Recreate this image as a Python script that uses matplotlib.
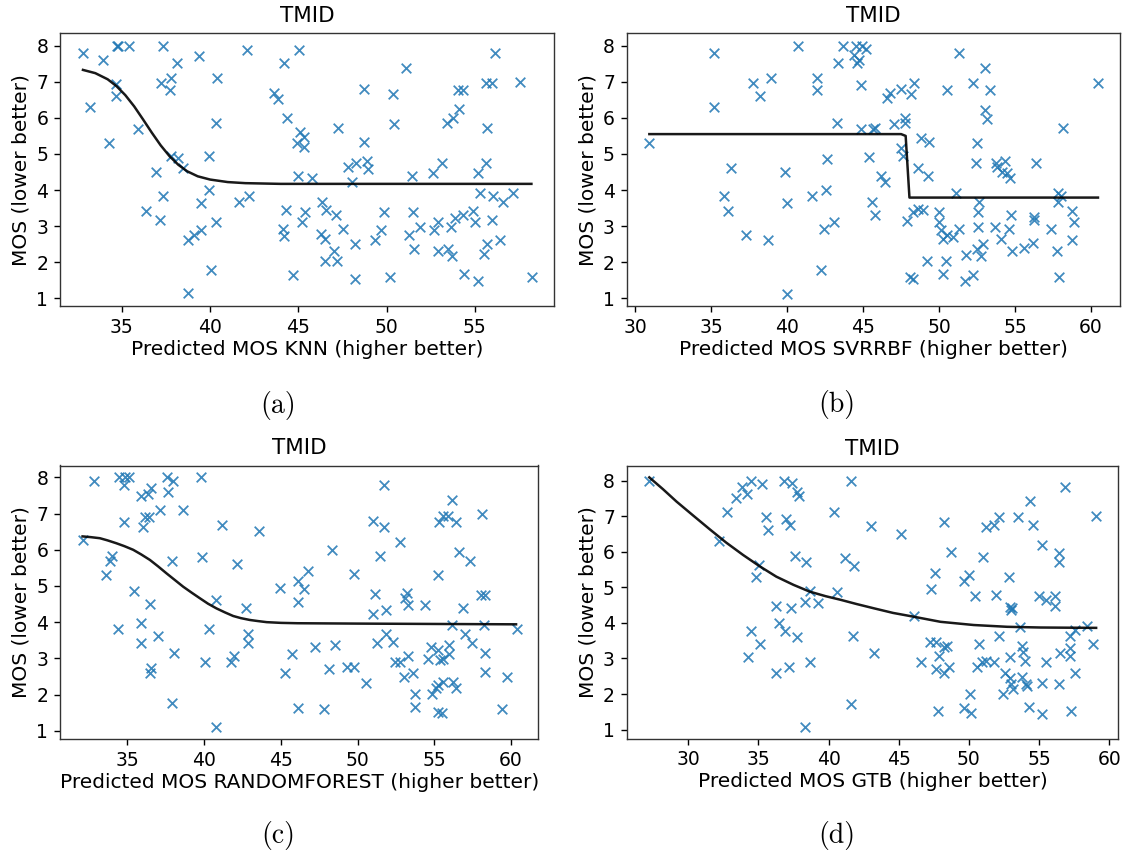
import matplotlib
matplotlib.use("Agg")
import matplotlib.pyplot as plt

# ---------------- data ----------------
title = "TMID"
ylabel = "MOS (lower better)"
xlabels = ["Predicted MOS KNN (higher better)",
           "Predicted MOS SVRRBF (higher better)",
           "Predicted MOS RANDOMFOREST (higher better)",
           "Predicted MOS GTB (higher better)"]
captions = ["(a)", "(b)", "(c)", "(d)"]

pts_a = [(32.79,7.79),(33.21,6.29),(33.91,7.60),(34.26,5.31),(34.66,6.93),(34.66,6.61),(34.72,8.0),(34.81,8.0),
         (35.42,8.0),(35.9,5.68),(36.36,3.42),(36.94,4.50),(37.19,3.16),(37.23,6.96),(37.32,8.0),(37.32,3.82),
         (37.72,6.77),(37.79,7.10),(37.79,4.93),(38.11,7.53),(38.19,4.89),(38.45,4.62),(38.74,2.62),(38.74,1.14),
         (39.11,2.76),(39.36,7.72),(39.49,3.63),(39.49,2.89),(39.96,4.94),(39.96,4.00),(40.08,1.79),(40.32,5.85),
         (40.32,3.10),(40.40,7.10),(41.64,3.66),(42.09,7.88),(42.23,3.82),(43.62,6.70),(43.87,6.51),(44.19,7.51),
         (44.11,2.91),(44.19,2.73),(44.30,3.45),(44.34,6.01),(44.72,1.64),(45.05,7.88),
         (45.10,5.62),(44.91,5.31),(45.32,5.46),(45.32,5.18),(45.0,4.40),(45.76,4.33),(45.36,3.40),(45.23,3.12),
         (46.34,3.68),(46.57,3.45),(47.12,3.31),(46.27,2.77),(46.49,2.64),(47.0,2.32),(46.49,2.03),(47.17,2.03),
         (47.27,5.71),(47.55,2.91),(47.83,4.65),(48.27,4.76),(48.06,4.22),(48.23,2.50),(48.23,1.53),(48.74,6.80),
         (48.74,5.34),(48.87,4.81),(48.97,4.57),(49.34,2.62),(49.68,2.89),(49.87,3.38),(50.21,1.60),(50.38,6.65),
         (50.44,5.82),(51.10,7.39),(51.27,2.76),(51.44,4.40),(51.51,3.38),(51.57,2.36),(51.89,2.97),(52.61,4.48),
         (52.70,2.89),(52.93,3.10),(52.93,2.32),(53.12,4.76),(53.44,5.87),(53.50,2.36),(53.68,2.17),(53.65,2.97),
         (53.74,5.99),(53.89,3.22),(54.12,6.24),(54.06,6.77),(54.34,6.77),(54.33,3.31),(54.40,1.67),(54.91,3.42),
         (55.0,3.12),(55.16,4.46),(55.16,1.49),(55.29,3.93),(55.63,6.96),(55.95,6.96),(55.67,5.71),(55.63,4.76),
         (55.67,2.50),(55.53,2.22),(55.95,3.17),(56.04,3.82),(56.14,7.79),(56.57,3.68),(56.42,2.62),(57.18,3.93),
         (57.55,7.00),(58.21,1.60)]
curve_a_x = [32.8,33.5,34.2,34.7,35.2,35.7,36.2,36.7,37.2,37.7,38.2,38.7,39.3,40.0,41.0,42.0,44.0,48.0,58.2]
curve_a_y = [7.33,7.24,7.07,6.88,6.63,6.32,5.96,5.59,5.24,4.94,4.70,4.52,4.38,4.29,4.22,4.19,4.17,4.17,4.17]

pts_b = [(30.94,5.31),(35.19,7.79),(35.19,6.29),(35.87,3.82),(36.09,3.42),(36.33,4.62),(37.27,2.76),(37.77,6.96),
         (38.21,6.61),(38.76,2.62),(38.91,7.10),(39.88,4.50),(39.97,3.63),(39.97,1.12),(40.73,8.0),(41.61,3.82),
         (41.94,6.77),(42.0,7.10),(42.2,1.79),(42.44,2.91),(42.53,4.0),(42.62,4.87),(43.08,3.10),(43.29,5.85),
         (43.38,7.53),(43.69,8.0),
         (44.52,8.0),(44.96,8.0),(45.22,7.90),(44.42,7.74),(44.70,7.60),(44.63,7.51),(44.89,6.91),(44.89,5.68),
         (45.65,5.68),(45.76,5.73),(45.39,4.91),(46.21,4.39),(46.47,4.22),(45.56,3.68),(45.76,3.30),(46.58,6.54),
         (46.75,6.68),(47.01,5.82),(47.51,6.80),(48.14,6.66),(48.38,6.96),(47.77,6.01),(47.77,5.87),(47.51,5.17),
         (47.60,4.94),(48.64,4.60),(48.81,5.43),(49.33,5.34),(49.24,4.39),(47.92,3.15),(48.31,3.39),(48.64,3.47),
         (48.96,3.45),(48.10,1.60),(48.31,1.53),(49.18,2.03),(50.0,3.39),(50.0,3.10),(50.11,2.89),(50.26,2.64),
         (50.54,2.76),(50.91,2.71),(51.28,2.91),(50.43,2.03),(50.26,1.67),(50.54,6.77),(51.13,3.93),(51.28,7.79),
         (51.80,2.20),(51.71,1.48),(52.25,6.96),(52.25,1.63),(52.42,4.76),(52.49,5.31),(52.53,3.40),(52.64,3.68),
         (52.58,2.97),(52.49,2.36),(52.75,2.17),(52.86,2.50),(53.01,7.39),(53.01,6.22),(53.12,5.98),(53.35,6.77),
         (53.66,2.97),(53.72,4.74),(53.83,4.65),(54.05,2.64),(54.16,4.51),(54.33,4.80),(54.44,4.46),(54.65,4.34),
         (54.57,2.91),(54.74,3.30),(54.81,2.32),(55.61,2.39),(56.17,2.53),(56.21,3.26),(56.26,3.17),(56.36,4.76),
         (57.34,2.91),(57.73,2.32),(57.84,3.93),(58.05,3.82),(57.84,3.68),(57.88,1.60),(58.16,5.71),(58.77,3.42),
         (58.85,3.12),(58.77,2.62),(60.45,6.98)]
curve_b_x = [30.94,47.5,47.8,48.05,60.45]
curve_b_y = [5.55,5.55,5.50,3.79,3.79]

pts_c = [(32.07,6.28),(32.83,7.89),(33.59,5.29),(33.85,5.68),(33.96,5.84),(34.35,3.80),(34.43,8.0),(34.76,7.79),
         (34.76,6.76),(34.83,8.0),(35.09,8.0),(35.41,4.86),(35.85,3.42),(35.91,3.99),(35.91,7.50),(36.02,6.63),
         (36.13,6.90),(36.35,7.54),(36.5,7.70),(36.41,6.92),(36.46,4.50),(36.52,2.74),(36.46,2.59),(36.96,3.62),
         (37.11,7.09),(37.59,8.0),(37.65,7.59),(37.91,5.70),(37.98,7.89),(37.91,1.76),(38.04,3.16),(38.59,7.09),
         (39.78,8.0),(39.87,5.81),(40.04,2.89),(40.30,3.80),(40.76,1.11),(40.80,4.61),(41.13,6.69),(41.74,2.89),
         (41.96,3.07),(42.17,5.60),(42.72,4.40),(42.87,3.67),(42.87,3.43),(43.59,6.51),(44.93,4.94),(45.26,2.60),
         (45.74,3.11),(46.09,5.15),(46.09,4.57),(46.09,1.62),
         (46.74,5.40),(46.52,4.91),(47.20,3.30),(47.80,1.59),(48.15,2.71),(48.30,6.0),(48.52,3.37),(49.28,2.75),
         (49.78,2.75),(49.78,5.33),(50.54,2.31),(50.98,6.80),(50.98,4.22),(51.15,4.77),(51.24,3.42),(51.46,5.84),
         (51.70,7.78),(51.70,6.64),(51.85,4.33),(51.85,3.67),(52.28,3.44),(52.46,2.89),(52.78,2.89),(52.78,6.21),
         (53.04,2.49),(53.11,4.66),(53.20,4.80),(53.30,4.48),(53.30,3.07),(53.63,2.60),(53.76,2.01),(53.74,1.65),
         (54.41,4.48),(54.61,2.97),(54.78,3.31),(54.83,2.01),(55.11,2.17),(55.22,5.29),(55.22,3.23),(55.26,2.26),
         (55.39,2.94),(55.28,6.76),(55.54,6.94),(55.22,1.53),(55.48,1.48),(55.59,2.34),(55.59,2.97),(55.87,6.94),
         (55.98,3.37),(55.98,3.12),(56.20,2.34),(56.13,7.38),(56.15,3.92),(56.41,6.76),(56.41,2.19),(56.63,5.95),
         (56.89,4.38),(57.0,3.67),(57.35,5.70),(57.43,3.42),(58.11,6.99),(58.04,4.75),(58.33,4.75),(58.22,3.92),
         (58.30,3.16),(58.30,2.61),(59.39,1.59),(59.74,2.49),(60.37,3.81)]
curve_c_x = [32.07,32.6,33.2,33.7,34.28,34.8,35.37,35.9,36.46,37.0,37.54,38.1,38.63,39.2,39.72,40.25,40.8,
             41.35,41.89,42.4,42.98,43.5,44.07,45.0,46.09,48.0,50.0,55.0,60.33]
curve_c_y = [6.37,6.35,6.32,6.26,6.18,6.10,6.0,5.87,5.72,5.54,5.35,5.16,4.98,4.81,4.66,4.51,4.38,
             4.27,4.17,4.11,4.06,4.03,4.0,3.98,3.97,3.965,3.96,3.95,3.94]

pts_d = [(27.23,8.0),(32.20,6.30),(32.77,7.12),(33.39,7.52),(33.86,7.83),(34.19,7.62),(34.45,8.0),(34.27,3.03),
         (34.45,3.78),(34.81,5.30),(35.02,5.63),(35.09,3.40),(35.26,7.91),(35.57,6.97),(35.69,6.61),(36.23,4.48),
         (36.23,2.60),(36.47,4.0),(36.82,8.0),(36.92,3.78),(36.99,6.91),(37.23,6.75),(37.18,2.75),(37.35,4.41),
         (37.39,7.92),(37.75,7.69),(37.89,7.58),(37.63,5.88),(37.75,3.59),(38.29,4.59),(38.41,5.72),(38.65,4.89),
         (38.65,2.89),(38.36,1.08),(39.24,4.55),(40.36,7.12),(40.59,4.86),(41.18,5.81),
         (41.6,8.0),(41.80,5.61),(41.73,3.63),(41.63,1.73),(43.04,6.72),(43.23,3.16),(45.17,6.49),(46.12,4.20),
         (46.6,2.89),(47.22,3.46),(47.33,4.94),(47.62,5.41),(47.67,3.46),(47.9,3.06),(47.67,2.70),(47.81,1.52),
         (48.21,6.83),(48.21,2.60),(48.26,3.31),(48.45,3.35),(48.57,2.75),(48.76,6.0),(49.69,5.18),(50.0,5.34),
         (49.69,1.61),(50.11,1.99),(50.18,1.47),(50.45,4.75),(50.59,2.75),(50.75,3.42),(50.94,2.89),(51.23,2.93),
         (51.02,5.86),(51.25,6.69),(51.82,6.74),(51.82,2.90),(51.94,4.78),(52.16,6.97),(52.16,3.63),(52.42,1.99),
         (52.61,2.60),(52.89,5.30),(52.96,3.03),(52.92,4.45),(53.01,4.36),(53.08,4.43),(52.92,2.46),(53.01,2.29),
         (53.15,2.15),(53.49,6.97),(53.63,3.89),(53.8,3.35),(53.87,3.19),(54.03,2.93),(53.8,2.48),(54.1,2.29),
         (54.15,2.22),(54.29,1.64),(54.39,7.43),(54.58,6.75),(55.03,4.75),(55.22,6.19),(55.22,2.32),(55.22,1.43),
         (55.51,4.64),(55.53,2.89),(56.17,4.75),(56.17,4.47),(56.46,5.97),(56.46,5.70),(56.46,2.29),(56.53,3.16),
         (56.84,7.83),(57.24,3.64),(57.24,3.28),(57.24,3.07),(57.29,1.52),(57.6,3.80),(57.6,2.60),(58.43,3.91),
         (58.83,3.42),(59.07,7.01)]
curve_d_x = [27.23,28.2,29.17,30.35,31.54,32.7,33.91,35.1,36.28,37.5,38.65,39.8,40.85,42.0,43.23,44.6,46.12,
             47.98,50.35,52.73,55.1,57.0,59.07]
curve_d_y = [8.09,7.76,7.41,7.02,6.63,6.26,5.91,5.59,5.30,5.07,4.88,4.75,4.65,4.53,4.41,4.28,4.17,
             4.03,3.94,3.89,3.87,3.865,3.86]

# ---------------- layout ----------------
W, H = 1126, 855
fig = plt.figure(figsize=(W / 100, H / 100), dpi=100)

def rect(l, t, r, b):
    return [l / W, 1 - b / H, (r - l) / W, (b - t) / H]

panels = [
    (rect(60, 33.3, 554, 306.5), pts_a, curve_a_x, curve_a_y, (31.5, 59.48), (0.77, 8.345), (278, 405)),
    (rect(626.7, 33.3, 1120, 306.5), pts_b, curve_b_x, curve_b_y, (29.45, 61.9), (0.77, 8.345), (837, 404)),
    (rect(60, 465.5, 538.3, 739), pts_c, curve_c_x, curve_c_y, (30.6, 61.78), (0.77, 8.33), (278, 835)),
    (rect(626.7, 466, 1118.3, 738.5), pts_d, curve_d_x, curve_d_y, (25.62, 60.65), (0.75, 8.41), (837, 835)),
]

for i, (r, pts, cx, cy, xl, yl, cap) in enumerate(panels):
    ax = fig.add_axes(r)
    xs = [p[0] for p in pts]
    ys = [p[1] for p in pts]
    ax.scatter(xs, ys, marker="x", s=48, color="#1f77b4", alpha=0.85, linewidths=1.3, zorder=2)
    ax.plot(cx, cy, color="black", lw=1.8, alpha=0.9, zorder=3)
    ax.set_xlim(*xl)
    ax.set_ylim(*yl)
    ax.set_yticks([1, 2, 3, 4, 5, 6, 7, 8])
    ax.set_title(title, fontsize=15.5, pad=8)
    ax.set_xlabel(xlabels[i], fontsize=14.5, labelpad=2)
    ax.set_ylabel(ylabel, fontsize=14.5, labelpad=4)
    ax.tick_params(labelsize=13.5, length=4.5, width=1.0, pad=4)
    for s in ax.spines.values():
        s.set_linewidth(1.0)
        s.set_color("#333333")
    fig.text(cap[0] / W, 1 - cap[1] / H, captions[i], ha="center", va="center",
             fontsize=20, family=["cmr10", "DejaVu Serif"])

fig.savefig("out.png", dpi=100)
